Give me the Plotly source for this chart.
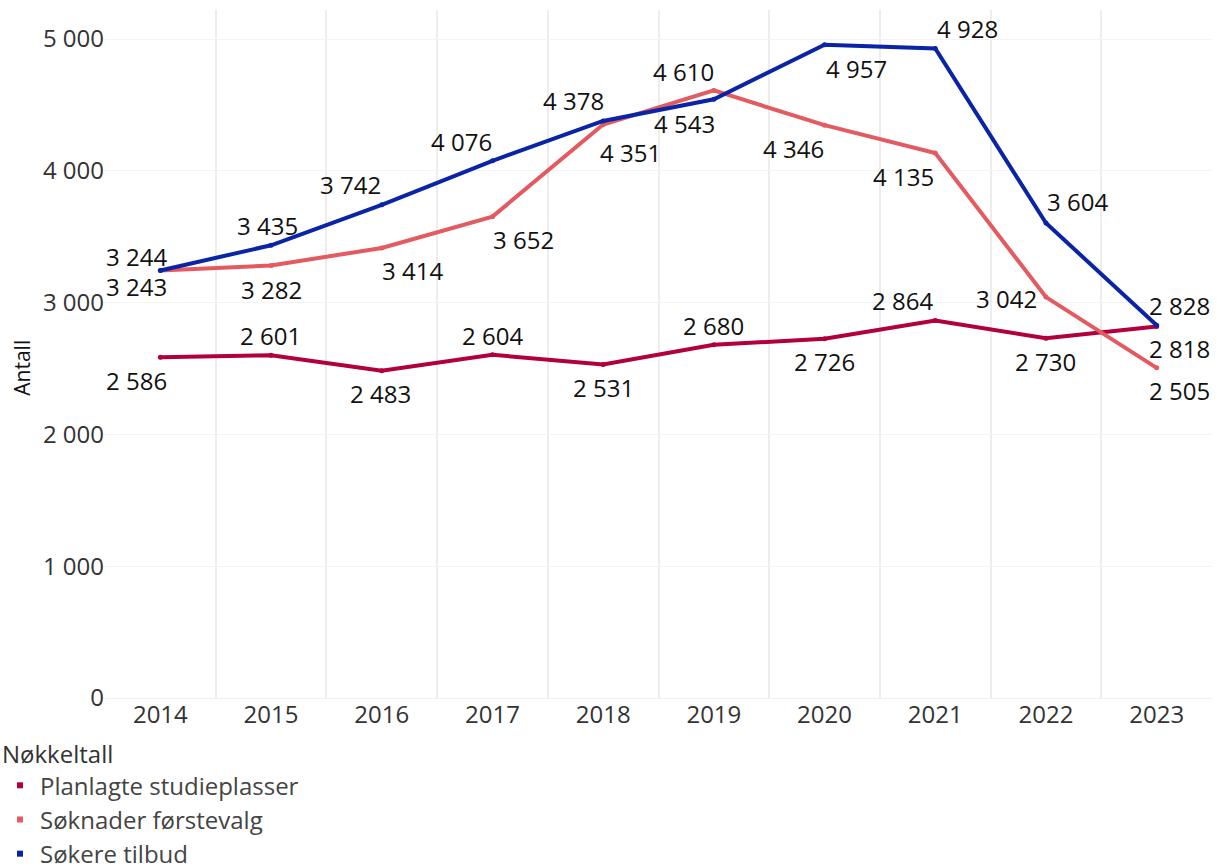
import plotly.graph_objects as go

years = [2014, 2015, 2016, 2017, 2018, 2019, 2020, 2021, 2022, 2023]
planlagte = [2586, 2601, 2483, 2604, 2531, 2680, 2726, 2864, 2730, 2818]
soknader = [3243, 3282, 3414, 3652, 4351, 4610, 4346, 4135, 3042, 2505]
sokere = [3244, 3435, 3742, 4076, 4378, 4543, 4957, 4928, 3604, 2828]
series_names = ["Planlagte studieplasser", "Søknader førstevalg", "Søkere tilbud"]
y_ticks = [0, 1000, 2000, 3000, 4000, 5000]

colors = ["#b1003d", "#e35b60", "#0a24a6"]

# label offsets in pixels (style only)
offsets = [
    [(-24, -23), (-1, 20), (-1, -23), (0, 19), (0, -23), (0, 19), (0, -23), (-33, 20), (0, -23), (23, -22)],
    [(-24, -16), (0, -24), (31, -22), (31, -23), (27, -28), (-30, 19), (-31, -23), (-32, -23), (-39, -1), (23, -23)],
    [(-24, 14), (-4, 20), (-31, 20), (-31, 19), (-30, 20), (-29, -24), (32, -24), (32, 20), (32, 21), (23, 20)],
]

def fmt(v):
    return f"{v:,}".replace(",", " ")

FONT = "Open Sans"
FS = 24
fig = go.Figure()
all_series = [planlagte, soknader, sokere]
for name, vals, col in zip(series_names, all_series, colors):
    fig.add_trace(go.Scatter(
        x=years, y=vals, mode="lines+markers", name=name,
        line=dict(color=col, width=4), marker=dict(color=col, size=5),
        showlegend=False, hoverinfo="skip"))
for i, (name, col) in enumerate(zip(series_names, colors)):
    fig.add_trace(go.Scatter(
        x=[None], y=[None], mode="markers", name=name,
        marker=dict(color=col, size=6, symbol="square"),
        legendgroup=f"g{i}", showlegend=True))

annotations = []
for vals, offs in zip(all_series, offsets):
    for x, v, (dx, dy) in zip(years, vals, offs):
        annotations.append(dict(
            x=x, y=v, xref="x", yref="y", text=fmt(v), showarrow=False,
            xshift=dx, yshift=dy, font=dict(family=FONT, size=FS, color="#111111")))

# y-axis title
annotations.append(dict(
    text="Antall", xref="paper", yref="paper", x=-0.075, y=0.48,
    textangle=-90, showarrow=False, xanchor="center", yanchor="middle",
    font=dict(family=FONT, size=21, color="#111111")))

fig.update_layout(
    width=1220, height=867,
    margin=dict(l=105, r=8, t=10, b=169, autoexpand=False),
    plot_bgcolor="white", paper_bgcolor="white",
    font=dict(family=FONT, size=FS, color="#333333"),
    annotations=annotations,
    legend=dict(
        title=dict(text="Nøkkeltall", font=dict(family=FONT, size=FS, color="#333333")),
        x=0, xref="container", xanchor="left",
        y=-0.2587, yref="paper", yanchor="bottom",
        font=dict(family=FONT, size=FS, color="#444444"),
        tracegroupgap=0, traceorder="grouped",
        itemwidth=30,
    ),
    xaxis=dict(
        range=[2013.5, 2023.5], tickvals=years, ticktext=[str(y) for y in years],
        showgrid=False, zeroline=False, showline=False, ticks="",
        tickfont=dict(family=FONT, size=FS, color="#333333"),
        minor=dict(tickvals=[y + 0.5 for y in years[:-1]], showgrid=True,
                   gridcolor="#ededed", gridwidth=1.5, ticks=""),
    ),
    yaxis=dict(
        range=[0, 5220], tickvals=y_ticks, ticktext=[fmt(v) for v in y_ticks],
        showgrid=True, gridcolor="#f3f3f3", gridwidth=1,
        zeroline=True, zerolinecolor="#f0f0f0", zerolinewidth=1,
        showline=False, ticks="",
        tickfont=dict(family=FONT, size=FS, color="#333333"),
    ),
)

fig.write_html("out.html", config={"displayModeBar": False},
               post_script="document.body.style.margin='0';document.body.style.overflow='hidden';")
